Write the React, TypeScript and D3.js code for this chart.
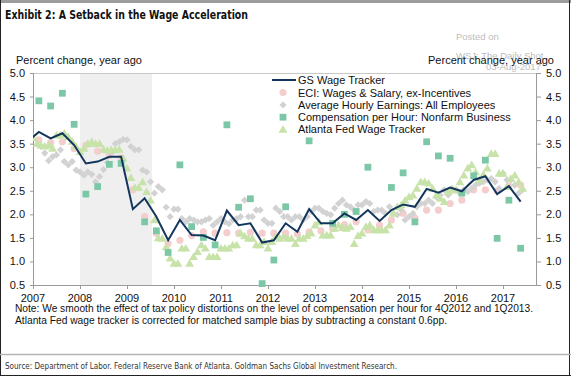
import React from "react";
import * as d3 from "d3";

// ---------- data ----------
const yearTicks = [2007, 2008, 2009, 2010, 2011, 2012, 2013, 2014, 2015, 2016, 2017];
const valueTicks = [0.5, 1.0, 1.5, 2.0, 2.5, 3.0, 3.5, 4.0, 4.5, 5.0];
const recession = [2008.0, 2009.53];

// GS Wage Tracker, quarterly from 2006Q4
const gsStart = { year: 2006, q: 4 };
const gsTracker = [
  3.54,
  3.75, 3.61, 3.72, 3.47,
  3.08, 3.12, 3.22, 3.22,
  2.11, 2.34, 1.95, 1.45,
  1.88, 1.56, 1.55, 1.45,
  2.08, 1.77, 1.81, 1.40,
  1.45, 1.81, 1.63, 2.11,
  1.81, 1.81, 2.02, 1.88,
  2.09, 1.86, 2.09, 2.21,
  2.16, 2.54, 2.46, 2.57,
  2.49, 2.73, 2.81, 2.43,
  2.60, 2.27,
];

// ECI: Wages & Salary, ex-Incentives, quarterly from 2007Q1
const eciStart = { year: 2007, q: 1 };
const eciWages = [
  3.58, 3.52, 3.54, 3.40,
  3.47, 3.34, 3.25, 3.20,
  2.52, 1.95, 1.60, 1.38,
  1.45, 1.55, 1.63, 1.60,
  1.61, 1.60, 1.62, 1.60,
  1.60, 1.60, 1.58, 1.63,
  1.65, 1.70, 1.78, 1.84,
  1.67, 1.77, 1.88, 2.02,
  1.92, 2.09, 2.09, 2.23,
  2.30, 2.52, 2.52, 2.50,
  2.60, 2.62,
];

// Compensation per Hour: Nonfarm Business, quarterly from 2007Q1
const compStart = { year: 2007, q: 1 };
const compPerHour: (number | null)[] = [
  4.41, 4.30, 4.57, 3.91,
  2.43, 2.59, 3.06, 3.08,
  null, 1.84, 1.65, 1.19,
  3.05, 1.74, 1.51, 1.35,
  3.90, 2.15, 2.33, 0.53,
  1.03, 2.16, null, 3.56,
  null, 1.81, 2.00, 2.06,
  3.00, null, 2.57, 2.88,
  1.84, 3.54, 3.24, 3.19,
  2.45, 2.82, 3.15, 1.49,
  2.30, 1.28,
];

// Average Hourly Earnings: All Employees, monthly from Mar 2007
const aheStart = { year: 2007, m: 3 };
const aheAll = [
  3.44, 3.30, 3.14, 3.22, 3.26, 3.37, 3.12, 3.05, 3.12, 2.94,
  2.90, 2.83, 2.90, 2.85, 2.69, 2.80, 2.95, 3.10, 3.30, 3.50, 3.54, 3.59,
  3.58, 3.44, 3.37, 3.37, 2.94, 2.90, 2.69, 2.45, 2.59, 2.52, 2.15, 1.95,
  2.11, 2.11, 1.91, 1.84, 1.91, 1.88, 1.84, 1.84, 1.88, 1.91, 1.77, 1.84,
  1.91, 1.84, 1.80, 1.88, 1.91, 1.95, 2.30, 1.95, 1.95, 2.09, 2.09, 1.88,
  1.81, 1.81, 2.13, 2.06, 1.95, 1.95, 1.88, 1.95, 1.95, 1.88, 1.95, 2.06,
  2.13, 2.13, 2.06, 2.02, 1.99, 2.13, 2.23, 2.30, 2.20, 2.16, 2.09, 2.20,
  2.20, 2.27, 2.23, 2.06, 2.09, 2.09, 2.02, 2.16, 2.02, 1.99, 2.09, 1.88,
  1.95, 2.02, 2.16, 2.23, 2.23, 2.30, 2.23, 2.37, 2.41, 2.52, 2.41, 2.55,
  2.52, 2.45, 2.52, 2.48, 2.55, 2.62, 2.66, 2.69, 2.73, 2.76, 2.69, 2.55,
  2.87, 2.73, 2.73, 2.62, 2.45, 2.52,
];

// Atlanta Fed Wage Tracker, monthly from Jan 2007
const atlStart = { year: 2007, m: 1 };
const atlantaFed = [
  3.63, 3.50, 3.47, 3.45, 3.47, 3.40, 3.68, 3.68, 3.72, 3.65, 3.55, 3.44,
  3.33, 3.40, 3.50, 3.54, 3.50, 3.50, 3.38, 3.36, 3.37, 3.37, 3.38, 3.19,
  2.98, 2.78, 2.57, 2.57, 2.69, 2.48, 2.30, 1.88, 1.50, 1.49, 1.31, 1.07,
  0.96, 0.96, 1.28, 1.28, 0.96, 1.10, 1.21, 1.35, 1.28, 1.10, 1.10, 1.10,
  1.28, 1.28, 1.28, 1.35, 1.35, 1.60, 1.54, 1.49, 1.49, 1.35, 1.35, 1.42,
  1.28, 1.42, 1.53, 1.49, 1.53, 1.49, 1.49, 1.38, 1.49, 1.49, 1.55, 1.60,
  1.77, 1.84, 1.56, 1.56, 1.56, 1.70, 1.77, 1.72, 1.70, 1.74, 1.38, 1.55,
  1.60, 1.74, 1.77, 1.67, 1.67, 1.67, 1.67, 1.77, 2.02, 2.16, 2.20, 2.30,
  2.37, 2.41, 2.55, 2.69, 2.69, 2.66, 2.55, 2.41, 2.34, 2.27, 2.48, 2.52,
  2.52, 2.69, 2.83, 2.98, 3.05, 2.90, 2.73, 2.85, 2.98, 3.29, 3.29, 2.87,
  2.87, 2.59, 2.76, 2.83, 2.69, 2.55,
];

const legendLabels = [
  "GS Wage Tracker",
  "ECI: Wages & Salary, ex-Incentives",
  "Average Hourly Earnings: All Employees",
  "Compensation per Hour: Nonfarm Business",
  "Atlanta Fed Wage Tracker",
];

// ---------- helpers ----------
const qDate = (s: { year: number; q: number }, i: number) => s.year + (s.q - 1 + i) * 0.25 + 0.125;
const mDate = (s: { year: number; m: number }, i: number) => s.year + (s.m - 1 + i) / 12;

const C = {
  gs: "#12365c",
  eci: "#f5cdcd",
  ahe: "#d2d2d2",
  comp: "#7cc8a6",
  atl: "#c8e3a9",
  axis: "#9a9a9a",
  shade: "#efefef",
};

const FONT = "'Liberation Sans', Arial, Helvetica, sans-serif";
const NARROW = "'Liberation Sans Narrow', 'DejaVu Sans Condensed', 'Liberation Sans', sans-serif";

export default function App() {
  const L = 33, R = 537, T = 73, B = 285;
  const x = d3.scaleLinear().domain([2007, 2017.723]).range([L, R]);
  const y = d3.scaleLinear().domain([0.5, 5]).range([B, T]);

  const sq = d3.symbol().type(d3.symbolSquare).size(46)()!;
  const dia = d3.symbol().type(d3.symbolSquare).size(26)()!;
  const tri = d3.symbol().type(d3.symbolTriangle).size(34)()!;
  const circleR = 3.6;

  const line = d3
    .line<number>()
    .x((_, i) => x(qDate(gsStart, i)))
    .y((d) => y(d));

  const legendRows = [80, 92.5, 105, 117.2, 129.4];
  const lgX = 283;

  return (
    <svg
      width={571}
      height={377}
      viewBox="0 0 571 377"
      style={{ position: "absolute", left: 0, top: 0, background: "#fff" }}
      fontFamily={FONT}
    >
      <defs>
        <clipPath id="plotClip">
          <rect x={L} y={T - 6} width={R - L} height={B - T + 12} />
        </clipPath>
      </defs>
      {/* frame */}
      <rect x={0} y={0} width={571} height={377} fill="#fff" />
      <line x1={0} x2={571} y1={1.5} y2={1.5} stroke="#9d9d9d" strokeWidth={3} />
      <line x1={0.5} x2={0.5} y1={0} y2={376} stroke="#222" strokeWidth={1} />
      <line x1={569.5} x2={569.5} y1={0} y2={376} stroke="#222" strokeWidth={1} />
      <line x1={0} x2={571} y1={375.5} y2={375.5} stroke="#222" strokeWidth={1} />
      <line x1={0} x2={571} y1={354.5} y2={354.5} stroke="#b5b5b5" strokeWidth={1.5} />

      {/* title */}
      <text x={5} y={19} fontFamily={NARROW} fontWeight="bold" fontSize={12.5} fill="#111" textLength={243} lengthAdjust="spacingAndGlyphs">
        Exhibit 2: A Setback in the Wage Acceleration
      </text>

      {/* watermark */}
      <g fill="#bdbdbd" fontSize={9.5}>
        <text x={456} y={40}>Posted on</text>
        <text x={456} y={59}>WSJ: The Daily Shot</text>
        <text x={486} y={70}>03-Aug-2017</text>
      </g>

      {/* axis titles */}
      <text x={16} y={64} fontSize={11} fill="#111">Percent change, year ago</text>
      <text x={554} y={64} fontSize={11} fill="#111" textAnchor="end">Percent change, year ago</text>

      {/* recession shading */}
      <rect x={x(recession[0])} y={T} width={x(recession[1]) - x(recession[0])} height={B - T} fill={C.shade} />

      {/* plot frame */}
      <line x1={L} x2={R} y1={T + 0.5} y2={T + 0.5} stroke="#c8c8c8" />
      <line x1={L + 0.5} x2={L + 0.5} y1={T} y2={B} stroke={C.axis} />
      <line x1={R - 0.5} x2={R - 0.5} y1={T} y2={B} stroke={C.axis} />
      <line x1={L} x2={R} y1={B + 0.5} y2={B + 0.5} stroke={C.axis} />

      {/* y ticks */}
      {valueTicks.map((v) => (
        <g key={"yt" + v}>
          <line x1={L - 3} x2={L} y1={y(v) + 0.5} y2={y(v) + 0.5} stroke={C.axis} />
          <line x1={R} x2={R + 4} y1={y(v) + 0.5} y2={y(v) + 0.5} stroke={C.axis} />
          <text x={25} y={y(v) + 4} fontSize={11} textAnchor="end" fill="#111">{v.toFixed(1)}</text>
          <text x={546} y={y(v) + 4} fontSize={11} fill="#111">{v.toFixed(1)}</text>
        </g>
      ))}

      {/* x ticks */}
      {yearTicks.map((yr) => (
        <g key={"xt" + yr}>
          <line x1={x(yr) + 0.5} x2={x(yr) + 0.5} y1={B} y2={B + 4} stroke={C.axis} />
          <text x={x(yr)} y={302} fontSize={11} textAnchor="middle" fill="#111">{yr}</text>
        </g>
      ))}

      <g clipPath="url(#plotClip)">
        {/* ECI circles */}
        {eciWages.map((v, i) => (
          <circle key={"e" + i} cx={x(qDate(eciStart, i))} cy={y(v)} r={circleR} fill={C.eci} />
        ))}
        {/* AHE diamonds */}
        {aheAll.map((v, i) => (
          <path key={"a" + i} d={dia} transform={`translate(${x(mDate(aheStart, i))},${y(v)}) rotate(45)`} fill={C.ahe} />
        ))}
        {/* Atlanta triangles */}
        {atlantaFed.map((v, i) => (
          <path key={"t" + i} d={tri} transform={`translate(${x(mDate(atlStart, i))},${y(v) + 0.8})`} fill={C.atl} />
        ))}
        {/* Compensation squares */}
        {compPerHour.map((v, i) =>
          v == null ? null : (
            <path key={"c" + i} d={sq} transform={`translate(${x(qDate(compStart, i))},${y(v)})`} fill={C.comp} />
          )
        )}
        {/* GS line */}
        <path d={line(gsTracker) || ""} fill="none" stroke={C.gs} strokeWidth={2} strokeLinejoin="miter" />
      </g>

      {/* legend */}
      <g fontSize={11} fill="#111">
        <line x1={272} x2={296} y1={legendRows[0]} y2={legendRows[0]} stroke={C.gs} strokeWidth={2} />
        <circle cx={lgX} cy={legendRows[1]} r={circleR} fill={C.eci} />
        <path d={dia} transform={`translate(${lgX},${legendRows[2]}) rotate(45)`} fill={C.ahe} />
        <path d={sq} transform={`translate(${lgX},${legendRows[3]})`} fill={C.comp} />
        <path d={tri} transform={`translate(${lgX},${legendRows[4] + 0.8})`} fill={C.atl} />
        {legendLabels.map((t, i) => (
          <text key={t} x={298} y={legendRows[i] + 4}>{t}</text>
        ))}
      </g>

      {/* notes */}
      <g fontSize={10.5} fill="#111">
        <text x={15} y={312} textLength={518} lengthAdjust="spacingAndGlyphs">
          Note: We smooth the effect of tax policy distortions on the level of compensation per hour for 4Q2012 and 1Q2013.
        </text>
        <text x={15} y={324} textLength={432} lengthAdjust="spacingAndGlyphs">
          Atlanta Fed wage tracker is corrected for matched sample bias by subtracting a constant 0.6pp.
        </text>
      </g>

      {/* source */}
      <text x={5} y={369} fontFamily={NARROW} fontSize={9.5} fill="#333" textLength={392} lengthAdjust="spacingAndGlyphs">
        Source: Department of Labor. Federal Reserve Bank of Atlanta. Goldman Sachs Global Investment Research.
      </text>
    </svg>
  );
}
